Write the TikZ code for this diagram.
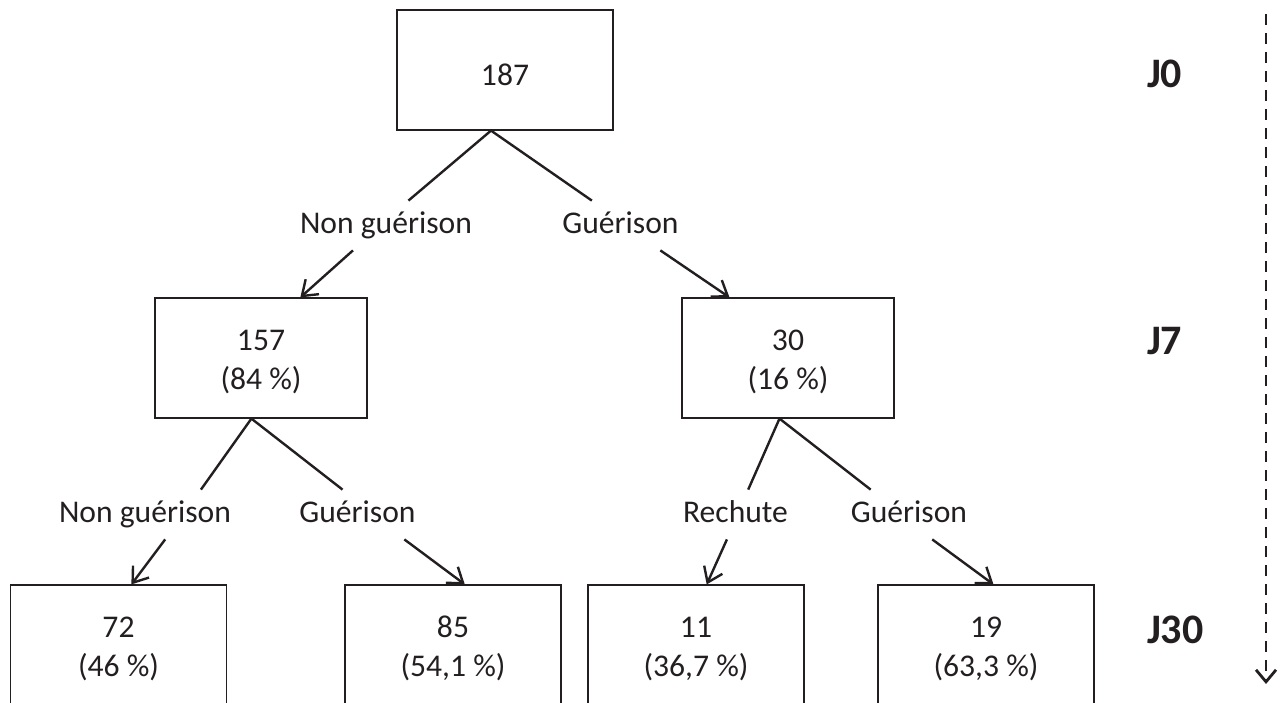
\documentclass[tikz,border=0pt]{standalone}
\usepackage{fontspec}
\setmainfont{Carlito}
\usetikzlibrary{arrows.meta}
\definecolor{ink}{RGB}{35,31,32}

\begin{document}
\begin{tikzpicture}[
    x=0.5pt, y=-0.5pt,
    every node/.style={text=ink, font=\fontsize{15.8}{19.5}\selectfont},
    box/.style={rectangle, draw=ink, line width=0.6pt, minimum height=60pt, minimum width=108pt, align=center, text height=33pt, text depth=1.5pt},
    lbl/.style={inner xsep=0pt, inner ysep=5pt, text height=11pt, text depth=3.5pt},
    link/.style={draw=ink, line width=1.2pt},
    arrow/.style={link, -{Straight Barb[length=7pt, width=10pt]}},
    day/.style={anchor=base west, font=\fontsize{21}{25}\selectfont\bfseries}
]
    \useasboundingbox (0,0) rectangle (1288,702);
    \clip (0,0) rectangle (1288,702);

    % boxes
    \node[box, text height=15pt, text depth=0pt] (total) at (505,70) {187};
    \node[box, minimum width=106pt] (ng7) at (261,358) {157\\(84~\%)};
    \node[box, minimum width=106pt] (g7) at (788,358) {30\\(16~\%)};
    \node[box] (ng30) at (118.5,645) {72\\(46~\%)};
    \node[box] (g30a) at (453,645) {85\\(54,1~\%)};
    \node[box] (rech30) at (696,645) {11\\(36,7~\%)};
    \node[box] (g30b) at (986,645) {19\\(63,3~\%)};

    % branch labels
    \node[lbl] (tNG) at (386,225.5) {Non guérison};
    \node[lbl] (tG) at (620.5,225.5) {Guérison};
    \node[lbl] (tNG2) at (145,514.5) {Non guérison};
    \node[lbl] (tG2) at (357.5,514.5) {Guérison};
    \node[lbl] (tR) at (735.5,514.5) {Rechute};
    \node[lbl] (tG3) at (909,514.5) {Guérison};

    % days
    \node[day] (j0) at (1140,87) {J0};
    \node[day] (j7) at (1140,354) {J7};
    \node[day] (j30) at (1140,643) {J30};

    \draw[link] (total.-103) -- (tNG.48);
    \draw[link] (total.-103) -- (tG.139);
    \draw[arrow] (tNG.217) -- (ng7.57);
    \draw[arrow] (tG.-32) -- (g7.134);

    \draw[link] (ng7.-99) -- (tNG2.24);
    \draw[link] (ng7.-99) -- (tG2.121);
    \draw[arrow] (tNG2.-51) -- (ng30.78);
    \draw[arrow] (tG2.-28) -- (g30a.79);

    \draw[link] (g7.-98) -- (tR.63);
    \draw[link] (g7.-98) -- (tG3.147);
    \draw[arrow] (tR.-109) -- (rech30.80);
    \draw[arrow] (tG3.-47) -- (g30b.83);

    % time axis
    \coordinate (tstart) at (1266,14);
    \coordinate (tend) at (1266,684);
    \draw[link, line width=1.4pt, dash pattern=on 5.5pt off 4pt, -{Straight Barb[length=6pt, width=10pt]}] (tstart) -- (tend);
\end{tikzpicture}
\end{document}
